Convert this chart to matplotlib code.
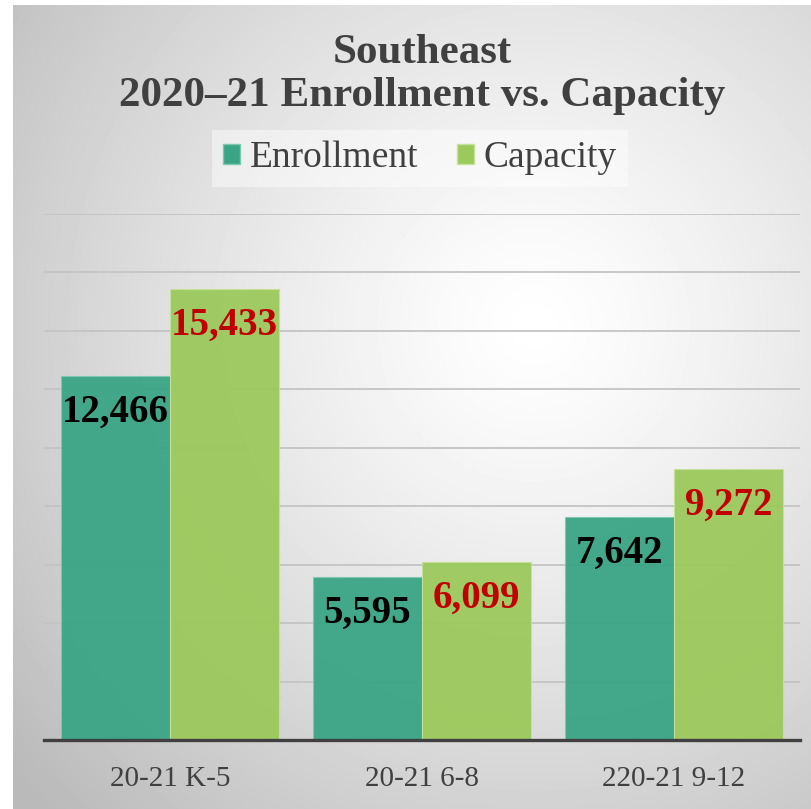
import numpy as np
import matplotlib
matplotlib.use('Agg')
import matplotlib.pyplot as plt
from matplotlib.patches import Patch

categories = ['20-21 K-5', '20-21 6-8', '220-21 9-12']
enrollment = [12466, 5595, 7642]
capacity = [15433, 6099, 9272]
series_names = ['Enrollment', 'Capacity']
title_lines = ['Southeast', '2020\u201321 Enrollment vs. Capacity']

W, H = 812, 809
fig = plt.figure(figsize=(W / 100, H / 100), dpi=100)
fig.patch.set_facecolor('white')

# radial grey background, brightest upper-right of centre
bg = fig.add_axes([13 / W, 0, 1 - 13 / W, 1 - 5 / H], zorder=-5)
yy, xx = np.mgrid[0:804, 0:799]
d = np.hypot(xx - 520, yy - 320) / 680.0
shade = 1.0 - 0.27 * np.clip(d, 0, 1) ** 1.25
bg.imshow(shade, cmap='gray', vmin=0, vmax=1, aspect='auto',
          extent=[0, 1, 0, 1], origin='upper', interpolation='bilinear')
bg.axis('off')

ax = fig.add_axes([44 / W, 1 - 740 / H, 756 / W, 526 / H])
ax.set_facecolor('none')

serif = 'Liberation Serif'
grey_txt = '#404040'
c_enr = '#3aa585'
c_cap = '#9cc95c'

x = np.arange(len(categories))
bw = 0.432
b1 = ax.bar(x - bw / 2, enrollment, bw, color=c_enr, alpha=0.95,
            edgecolor='#7cc9ad', linewidth=0.8, zorder=3)
b2 = ax.bar(x + bw / 2, capacity, bw, color=c_cap, alpha=0.95,
            edgecolor='#c4e29a', linewidth=0.8, zorder=3)

for bars, vals, col in [(b1, enrollment, 'black'), (b2, capacity, '#c00000')]:
    for r, v in zip(bars, vals):
        ax.annotate(f'{v:,}', xy=(r.get_x() + r.get_width() / 2, v),
                    xytext=(0, -13), textcoords='offset points',
                    ha='center', va='top', fontsize=28, fontweight='bold',
                    family=serif, color=col, zorder=5)

ax.set_xlim(-0.5, 2.5)
ax.set_ylim(0, 18000)
ax.set_yticks(np.arange(2000, 18001, 2000))
ax.yaxis.grid(True, color='#c4c4c4', linewidth=1.3, zorder=0)
ax.set_axisbelow(True)
ax.tick_params(axis='y', left=False, labelleft=False)
ax.set_xticks(x)
ax.set_xticklabels(categories, family=serif, fontsize=21, color=grey_txt)
ax.tick_params(axis='x', length=0, pad=19)
for s in ['top', 'right', 'left']:
    ax.spines[s].set_visible(False)
ax.spines['bottom'].set_color('#404040')
ax.spines['bottom'].set_linewidth(2.4)
ax.spines['bottom'].set_zorder(6)

fig.text(422 / W, 1 - 34 / H, '\n'.join(title_lines), ha='center', va='top',
         family=serif, fontweight='bold', fontsize=31, color=grey_txt,
         linespacing=1.18)

handles = [Patch(facecolor=c_enr, edgecolor='#7cc9ad'),
           Patch(facecolor=c_cap, edgecolor='#c4e29a')]
leg = fig.legend(handles, series_names, loc='center',
                 bbox_to_anchor=(420 / W, 1 - 158 / H), ncol=2,
                 prop={'family': serif, 'size': 27},
                 handlelength=0.45, handleheight=0.45, handletextpad=0.25,
                 columnspacing=1.05, frameon=True, fancybox=False,
                 borderpad=0.3, borderaxespad=0)
leg.get_frame().set_facecolor('white')
leg.get_frame().set_alpha(0.45)
leg.get_frame().set_edgecolor('none')
for t in leg.get_texts():
    t.set_color(grey_txt)

fig.savefig('out.png', dpi=100)
